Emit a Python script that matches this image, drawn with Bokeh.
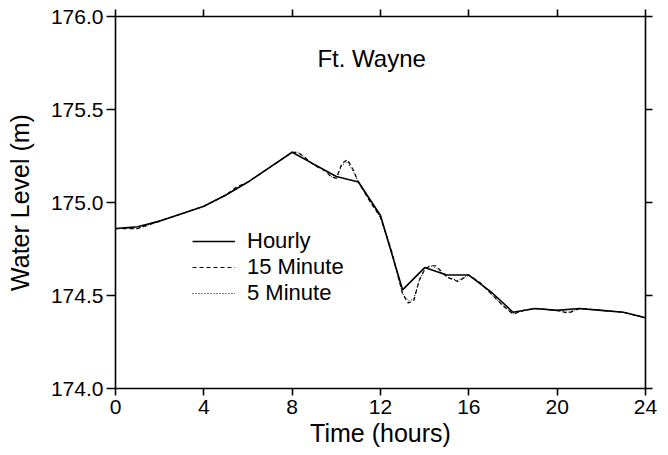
from bokeh.plotting import figure
from bokeh.models import LinearAxis, FixedTicker, Range1d, Legend, LegendItem, Label, CustomJSTickFormatter
from bokeh.embed import file_html
from bokeh.resources import INLINE

# ---- data ----
hourly_t = list(range(0, 25))
hourly_v = [174.86, 174.87, 174.90, 174.94, 174.98, 175.04, 175.11, 175.19, 175.27,
            175.205, 175.14, 175.11, 174.93, 174.53, 174.65, 174.61, 174.61, 174.52,
            174.41, 174.43, 174.42, 174.43, 174.42, 174.41, 174.38]

min15_t = [0, 1, 2, 3, 4, 5, 5.5, 6, 7, 7.75, 8, 8.25, 8.5, 9, 9.5, 9.75, 10, 10.25,
           10.5, 10.75, 11, 11.5, 12, 12.5, 13, 13.25, 13.5, 13.75, 14, 14.25, 14.5,
           15, 15.5, 16, 16.5, 17, 17.5, 18, 18.5, 19, 20, 20.5, 21, 22, 23, 24]
min15_v = [174.86, 174.86, 174.90, 174.94, 174.98, 175.04, 175.085, 175.11, 175.19,
           175.25, 175.27, 175.27, 175.25, 175.20, 175.17, 175.14, 175.13, 175.21,
           175.23, 175.18, 175.11, 175.01, 174.92, 174.74, 174.51, 174.46, 174.47,
           174.58, 174.64, 174.66, 174.66, 174.60, 174.575, 174.61, 174.57, 174.51,
           174.45, 174.40, 174.42, 174.43, 174.42, 174.405, 174.43, 174.42, 174.41, 174.38]

min5_t = [0, 1, 2, 3, 4, 5, 6, 7, 7.75, 8, 8.25, 8.5, 9, 9.5, 9.75, 10, 10.25, 10.5,
          10.75, 11, 11.5, 12, 12.5, 13, 13.25, 13.5, 13.75, 14, 14.25, 14.5, 15, 15.5,
          16, 16.5, 17, 17.5, 18, 18.5, 19, 20, 20.5, 21, 22, 23, 24]
min5_v = [174.86, 174.86, 174.90, 174.94, 174.98, 175.04, 175.11, 175.19, 175.25,
          175.27, 175.27, 175.25, 175.20, 175.17, 175.14, 175.13, 175.20, 175.22,
          175.17, 175.11, 175.01, 174.92, 174.73, 174.51, 174.47, 174.48, 174.58,
          174.64, 174.66, 174.65, 174.60, 174.58, 174.61, 174.57, 174.51, 174.45,
          174.40, 174.42, 174.43, 174.42, 174.41, 174.43, 174.42, 174.41, 174.38]

x_ticks = [0, 4, 8, 12, 16, 20, 24]
y_ticks = [174.0, 174.5, 175.0, 175.5, 176.0]
series_names = ["Hourly", "15 Minute", "5 Minute"]
title_text = "Ft. Wayne"
x_label = "Time (hours)"
y_label = "Water Level (m)"

FONT = "Liberation Sans"

p = figure(width=668, height=455, output_backend="svg", toolbar_location=None,
           x_range=Range1d(0, 24), y_range=Range1d(174.0, 176.0),
           min_border_left=115, min_border_right=23, min_border_top=16, min_border_bottom=67)
p.xgrid.visible = False
p.ygrid.visible = False
p.outline_line_color = None
p.background_fill_color = "white"
p.border_fill_color = "white"

r1 = p.line(hourly_t, hourly_v, line_color="black", line_width=1.6)
r2 = p.line(min15_t, min15_v, line_color="black", line_width=1.2, line_dash="4 3")
r3 = p.line(min5_t, min5_v, line_color="black", line_width=1.0, line_dash="1 2")

def style_axis(ax):
    ax.axis_line_color = "black"
    ax.axis_line_width = 1.6
    ax.major_tick_line_color = "black"
    ax.major_tick_line_width = 1.6
    ax.major_tick_in = 0
    ax.major_tick_out = 7
    ax.minor_tick_line_color = None
    ax.major_label_text_font = FONT
    ax.major_label_text_font_size = "21px"
    ax.major_label_text_color = "black"
    ax.axis_label_text_font = FONT
    ax.axis_label_text_font_style = "normal"
    ax.axis_label_text_font_size = "25px"
    ax.axis_label_text_color = "black"

xa = p.xaxis[0]
xa.ticker = FixedTicker(ticks=x_ticks)
xa.axis_label = x_label
style_axis(xa)
xa.major_label_standoff = 4
xa.axis_label_standoff = 2

ya = p.yaxis[0]
ya.ticker = FixedTicker(ticks=y_ticks)
ya.formatter = CustomJSTickFormatter(code="return tick.toFixed(1);")
ya.axis_label = y_label
style_axis(ya)
ya.major_tick_out = 9
ya.major_label_standoff = 3
ya.axis_label_standoff = 14

blank = CustomJSTickFormatter(code="return '';")

top = LinearAxis(ticker=FixedTicker(ticks=x_ticks), formatter=blank)
style_axis(top)
top.major_label_standoff = 0
p.add_layout(top, "above")

right = LinearAxis(ticker=FixedTicker(ticks=y_ticks), formatter=blank)
style_axis(right)
right.major_label_standoff = 0
p.add_layout(right, "right")

p.add_layout(Label(x=11.6, y=175.775, text=title_text, text_align="center",
                   text_baseline="middle", text_font=FONT, text_font_size="24px",
                   text_color="black"))

legend = Legend(items=[LegendItem(label=series_names[0], renderers=[r1]),
                       LegendItem(label=series_names[1], renderers=[r2]),
                       LegendItem(label=series_names[2], renderers=[r3])],
                location=(77, 82), border_line_color=None, background_fill_alpha=0,
                padding=0, margin=0, spacing=0, glyph_width=43, glyph_height=18,
                label_height=18, label_standoff=12, label_text_font=FONT,
                label_text_font_size="22px", label_text_color="black")
p.add_layout(legend)

open("out.html", "w").write(file_html(p, INLINE))
